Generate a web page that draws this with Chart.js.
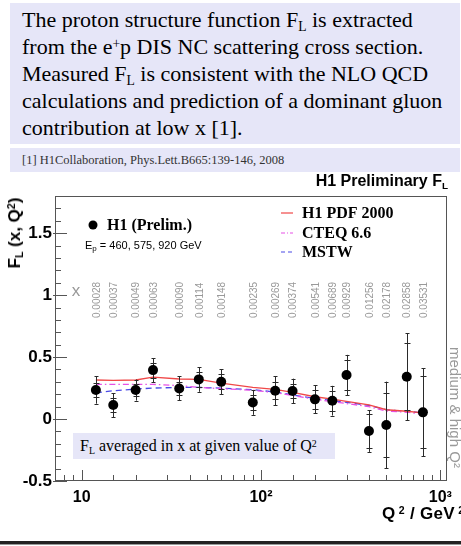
<!DOCTYPE html>
<html>
<head>
<meta charset="utf-8">
<script src="https://cdn.jsdelivr.net/npm/chart.js@4"></script>
<style>
  html, body { margin:0; padding:0; }
  body { width:461px; height:546px; overflow:hidden; position:relative; background:#fff; }
  .abs { position:absolute; white-space:nowrap; }
  sub { font-size:0.62em; vertical-align:-0.32em; line-height:0; }
  sup { font-size:0.62em; vertical-align:0.45em; line-height:0; }
  #box1 { left:10px; top:3px; width:450px; height:141px; background:#e6e6f8; font-family:'Liberation Serif', serif; font-size:22px; line-height:27px; padding:3px 0 0 12px; box-sizing:border-box; color:#000; }
  #box2 { left:10px; top:148px; width:450px; height:24px; background:#e6e6f8; font-family:'Liberation Serif', serif; font-size:12.5px; line-height:24px; padding-left:12px; box-sizing:border-box; color:#333; }
  #note { left:73px; top:433px; width:262px; height:26px; background:#e6e6f8; font-family:'Liberation Serif', serif; font-size:16px; line-height:26px; padding-left:7px; box-sizing:border-box; color:#000; z-index:2; }
  #title { right:13px; top:172px; font:bold 16px 'Liberation Sans', sans-serif; color:#000; z-index:2; }
  #ytitle { left:15px; top:233px; font:bold 17px 'Liberation Sans', sans-serif; transform:translate(-50%,-50%) rotate(-90deg); z-index:2; }
  #xtitle { left:382px; top:504px; font:bold 17px 'Liberation Sans', sans-serif; z-index:2; letter-spacing:0.3px; }
  #rule { left:0; top:541px; width:461px; height:3px; background:#222; }
  #rule2 { left:0; top:544px; width:461px; height:1px; background:#999; }
  canvas { position:absolute; left:0; top:0; z-index:1; }
</style>
</head>
<body>
<div id="box1" class="abs">The proton structure function F<sub>L</sub> is extracted<br>from the e<sup>+</sup>p DIS NC scattering cross section.<br>Measured F<sub>L</sub> is consistent with the NLO QCD<br>calculations and prediction of a dominant gluon<br>contribution at low x [1].</div>
<div id="box2" class="abs">[1] H1Collaboration, Phys.Lett.B665:139-146, 2008</div>
<canvas id="c" width="461" height="546" style="width:461px;height:546px"></canvas>
<div id="title" class="abs">H1 Preliminary F<sub>L</sub></div>
<div id="ytitle" class="abs">F<sub>L</sub> (x, Q<sup>2</sup>)</div>
<div id="xtitle" class="abs">Q<sup> 2</sup> / GeV<sup> 2</sup></div>
<div id="note" class="abs">F<sub>L</sub> averaged in x at given value of Q<sup>2</sup></div>
<div id="rule" class="abs"></div>
<div id="rule2" class="abs"></div>
<script>
// ---- data ----
const q2 = [12, 15, 20, 25, 35, 45, 60, 90, 120, 150, 200, 250, 300, 400, 500, 650, 800];
const xBinLabels = ['0.00028','0.00037','0.00049','0.00063','0.00090','0.00114','0.00148','0.00235','0.00269','0.00374','0.00541','0.00689','0.00929','0.01256','0.02178','0.02858','0.03531'];
const flH1 = [0.234, 0.113, 0.234, 0.395, 0.247, 0.32, 0.30, 0.134, 0.228, 0.226, 0.159, 0.148, 0.355, -0.097, -0.048, 0.341, 0.054];
const errTotal = [0.11, 0.097, 0.085, 0.097, 0.097, 0.10, 0.10, 0.10, 0.117, 0.10, 0.113, 0.12, 0.163, 0.168, 0.35, 0.35, 0.356];
const errStat = [0.055, 0.055, 0.05, 0.06, 0.055, 0.06, 0.06, 0.06, 0.07, 0.06, 0.075, 0.08, 0.12, 0.135, 0.26, 0.27, 0.29];
const h1pdf2000 = [0.315, 0.312, 0.315, 0.338, 0.323, 0.32, 0.29, 0.256, 0.24, 0.215, 0.18, 0.16, 0.143, 0.115, 0.075, 0.063, 0.05];
const cteq66 = [0.28, 0.28, 0.28, 0.28, 0.27, 0.255, 0.245, 0.232, 0.213, 0.19, 0.16, 0.14, 0.125, 0.1, 0.065, 0.055, 0.04];
const mstw = [0.212, 0.228, 0.242, 0.25, 0.255, 0.255, 0.25, 0.237, 0.218, 0.195, 0.165, 0.15, 0.135, 0.11, 0.075, 0.062, 0.05];
const xTickLabels = {10: '10', 100: '10²', 1000: '10³'};
const yTickLabels = {'-0.5': '-0.5', '0': '0', '0.5': '0.5', '1': '1', '1.5': '1.5'};
const legendModels = ['H1 PDF 2000', 'CTEQ 6.6', 'MSTW'];
const sideText = 'medium & high Q²';

const colRed = '#f04848', colMag = '#e650e6', colBlue = '#4a4ae6';
const pts = a => q2.map((q, i) => ({x: q, y: a[i]}));

const deco = {
  id: 'deco',
  beforeDatasetDraw(chart, args) {
    if (args.index !== 0) return;
    const ctx = chart.ctx, xs = chart.scales.x, ys = chart.scales.y;
    ctx.save();
    ctx.strokeStyle = '#2a2a2a';
    ctx.lineWidth = 1;
    q2.forEach((q, i) => {
      const px = Math.round(xs.getPixelForValue(q)) + 0.5;
      const yt = ys.getPixelForValue(flH1[i] + errTotal[i]);
      const yb = ys.getPixelForValue(flH1[i] - errTotal[i]);
      ctx.beginPath(); ctx.moveTo(px, yt); ctx.lineTo(px, yb); ctx.stroke();
      [flH1[i] + errStat[i], flH1[i] - errStat[i], flH1[i] + errTotal[i], flH1[i] - errTotal[i]].forEach((v, k) => {
        const py = Math.round(ys.getPixelForValue(v)) + 0.5;
        const w = k < 2 ? 3 : 2;
        ctx.beginPath(); ctx.moveTo(px - w, py); ctx.lineTo(px + w, py); ctx.stroke();
      });
    });
    ctx.restore();
  },
  afterDraw(chart) {
    const ctx = chart.ctx, a = chart.chartArea, xs = chart.scales.x, ys = chart.scales.y;
    ctx.save();
    // frame
    ctx.strokeStyle = '#555';
    ctx.lineWidth = 1;
    ctx.strokeRect(Math.round(a.left) + 0.5, Math.round(a.top) + 0.5, Math.round(a.right - a.left) - 1, Math.round(a.bottom - a.top) - 1);
    // y ticks
    ys.ticks.forEach(t => {
      const v = t.value;
      if (v >= ys.max - 1e-6) return;
      const major = Math.abs(v * 2 - Math.round(v * 2)) < 1e-6;
      const py = Math.round(ys.getPixelForValue(v)) + 0.5;
      ctx.beginPath();
      ctx.moveTo(a.left - (major ? 2 : 0), py);
      ctx.lineTo(a.left + (major ? 12 : 6), py);
      ctx.stroke();
    });
    // x ticks
    xs.ticks.forEach((t, i) => {
      if (i === 0 || i === xs.ticks.length - 1) return;
      const v = t.value;
      const major = Math.abs(Math.log10(v) - Math.round(Math.log10(v))) < 1e-9;
      const px = Math.round(xs.getPixelForValue(v)) + 0.5;
      ctx.beginPath();
      ctx.moveTo(px, a.bottom);
      ctx.lineTo(px, a.bottom - (major ? 11 : 6));
      ctx.stroke();
    });
    // x-bin labels (vertical)
    ctx.fillStyle = '#999';
    ctx.font = '10px "Liberation Sans"';
    ctx.textAlign = 'left';
    ctx.textBaseline = 'middle';
    q2.forEach((q, i) => {
      ctx.save();
      ctx.translate(xs.getPixelForValue(q) + 1, 318);
      ctx.rotate(-Math.PI / 2);
      ctx.fillText(xBinLabels[i], 0, 0);
      ctx.restore();
    });
    ctx.font = '17px "Liberation Sans"';
    ctx.textAlign = 'center';
    ctx.fillText('x', 76, 291);
    // side text (rotated)
    ctx.save();
    ctx.translate(450, 347);
    ctx.rotate(Math.PI / 2);
    ctx.textAlign = 'left';
    ctx.textBaseline = 'alphabetic';
    ctx.font = '15px "Liberation Sans"';
    ctx.fillStyle = '#999';
    ctx.fillText(sideText, 0, 0);
    ctx.restore();
    // legend left
    ctx.fillStyle = '#000';
    ctx.beginPath(); ctx.arc(93, 225, 4.5, 0, Math.PI * 2); ctx.fill();
    ctx.font = 'bold 16px "Liberation Serif"';
    ctx.textAlign = 'left';
    ctx.textBaseline = 'middle';
    ctx.fillText('H1 (Prelim.)', 107, 226);
    ctx.font = '11px "Liberation Sans"';
    ctx.fillText('E', 85, 246);
    const ew = ctx.measureText('E').width;
    ctx.font = '8px "Liberation Sans"';
    ctx.fillText('p', 85 + ew, 249);
    const pw = ctx.measureText('p').width;
    ctx.font = '11px "Liberation Sans"';
    ctx.fillText(' = 460, 575, 920 GeV', 85 + ew + pw, 246);
    // legend right
    const ly = [213, 233, 252];
    const lc = [colRed, colMag, colBlue];
    const ld = [[], [4, 2, 1, 2], [4, 3]];
    legendModels.forEach((name, i) => {
      ctx.strokeStyle = lc[i];
      ctx.lineWidth = 1.2;
      ctx.setLineDash(ld[i]);
      ctx.beginPath(); ctx.moveTo(281, ly[i]); ctx.lineTo(293, ly[i]); ctx.stroke();
      ctx.setLineDash([]);
      ctx.fillStyle = '#000';
      ctx.font = 'bold 16px "Liberation Serif"';
      ctx.fillText(name, 302, ly[i] + 1);
    });
    ctx.restore();
  }
};

new Chart(document.getElementById('c'), {
  type: 'scatter',
  data: {
    datasets: [
      { label: 'H1 (Prelim.)', data: pts(flH1), order: 0, pointRadius: 5, pointBackgroundColor: '#000', pointBorderWidth: 0, showLine: false },
      { label: legendModels[0], data: pts(h1pdf2000), order: 1, showLine: true, borderColor: colRed, borderWidth: 1.3, pointRadius: 0, fill: false },
      { label: legendModels[1], data: pts(cteq66), order: 2, showLine: true, borderColor: colMag, borderWidth: 1.3, borderDash: [6, 3, 1.5, 3], pointRadius: 0, fill: false },
      { label: legendModels[2], data: pts(mstw), order: 3, showLine: true, borderColor: colBlue, borderWidth: 1.3, borderDash: [6, 4], pointRadius: 0, fill: false }
    ]
  },
  options: {
    responsive: false,
    devicePixelRatio: 1,
    animation: false,
    events: [],
    layout: { padding: { left: 0, top: 196, right: 14, bottom: 35 } },
    plugins: { legend: { display: false }, tooltip: { enabled: false }, title: { display: false } },
    scales: {
      x: {
        type: 'logarithmic', min: 7.1, max: 1090,
        afterFit: s => { s.height = 30; },
        grid: { display: false, drawTicks: false },
        border: { display: false },
        ticks: {
          autoSkip: false, maxRotation: 0, minRotation: 0, padding: 7, color: '#000',
          font: { family: 'Liberation Sans', size: 16, weight: 'bold' },
          callback: v => xTickLabels[v] || ''
        }
      },
      y: {
        min: -0.5, max: 1.8,
        afterFit: s => { s.width = 55; },
        grid: { display: false, drawTicks: false },
        border: { display: false },
        ticks: {
          stepSize: 0.1, autoSkip: false, padding: 3, color: '#000',
          font: { family: 'Liberation Sans', size: 17, weight: 'bold' },
          callback: v => { const k = String(Math.round(v * 10) / 10); return yTickLabels[k] || ''; }
        }
      }
    }
  },
  plugins: [deco]
});
</script>
</body>
</html>
